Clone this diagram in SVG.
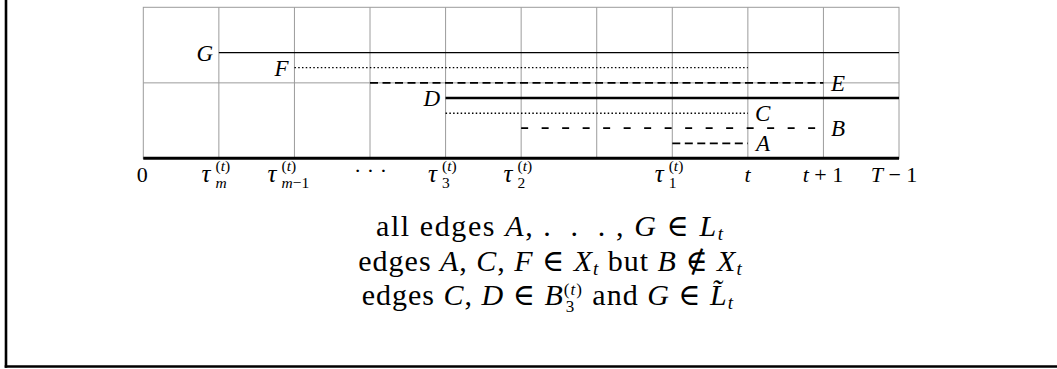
<svg xmlns="http://www.w3.org/2000/svg" width="1057" height="369" viewBox="0 0 1057 369">
<style>
text{font-family:"Liberation Serif","DejaVu Serif",serif;fill:#000}
.lb{font-size:23px;font-style:italic}
.ax{font-size:22px}
.tau{font-size:25px;font-style:italic}
.sm{font-size:15.5px}
.it{font-style:italic}
.cap{font-size:30px}
.s2{font-size:19px}
.s3{font-size:17px}
.grid line,.grid rect{stroke:#9c9c9c;stroke-width:1;fill:none}
.e{fill:none;stroke:#000}
.solid{stroke-width:1.3}
.thick{stroke-width:2.7}
.dot{stroke-width:1.4;stroke-dasharray:1.5 2.27}
.dash{stroke-width:1.8;stroke-dasharray:8 4.5}
.ldash{stroke-width:1.8;stroke-dasharray:7 13.5}
</style>
<rect width="1057" height="369" fill="#fff"/>
<g id="frame" stroke="#000" stroke-width="2.6" fill="none">
<line x1="6" y1="0" x2="6" y2="367.8"/>
<line x1="4.7" y1="366.5" x2="1057" y2="366.5"/>
</g>
<g id="grid" class="grid">
<rect x="143.3" y="7.3" width="755.7" height="151.14"/>
<line x1="143.3" y1="82.87" x2="899" y2="82.87"/>
<line x1="218.87" y1="7.3" x2="218.87" y2="158.44"/>
<line x1="294.44" y1="7.3" x2="294.44" y2="158.44"/>
<line x1="370.01" y1="7.3" x2="370.01" y2="158.44"/>
<line x1="445.58" y1="7.3" x2="445.58" y2="158.44"/>
<line x1="521.15" y1="7.3" x2="521.15" y2="158.44"/>
<line x1="596.72" y1="7.3" x2="596.72" y2="158.44"/>
<line x1="672.29" y1="7.3" x2="672.29" y2="158.44"/>
<line x1="747.86" y1="7.3" x2="747.86" y2="158.44"/>
<line x1="823.43" y1="7.3" x2="823.43" y2="158.44"/>
</g>
<g id="axis">
<line x1="143.3" y1="158.2" x2="899" y2="158.2" stroke="#000" stroke-width="3"/>
<text class="ax" x="142.3" y="182" text-anchor="middle">0</text>
<text class="tau" x="201.5" y="182">τ</text><text class="sm" x="215.5" y="171">(<tspan class="it">t</tspan>)</text><text class="sm it" x="215.5" y="188">m</text>
<text class="tau" x="267.5" y="182">τ</text><text class="sm" x="281.5" y="171">(<tspan class="it">t</tspan>)</text><text class="sm" x="281.5" y="188"><tspan class="it">m</tspan>−1</text>
<text class="ax" x="370.5" y="178" text-anchor="middle">· · ·</text>
<text class="tau" x="428" y="182">τ</text><text class="sm" x="442" y="171">(<tspan class="it">t</tspan>)</text><text class="sm" x="442" y="188">3</text>
<text class="tau" x="503.6" y="182">τ</text><text class="sm" x="517.6" y="171">(<tspan class="it">t</tspan>)</text><text class="sm" x="517.6" y="188">2</text>
<text class="tau" x="654.7" y="182">τ</text><text class="sm" x="668.7" y="171">(<tspan class="it">t</tspan>)</text><text class="sm" x="668.7" y="188">1</text>
<text class="ax it" x="747.6" y="182" text-anchor="middle">t</text>
<text class="ax" x="823" y="182" text-anchor="middle"><tspan class="it">t</tspan> + 1</text>
<text class="ax" x="894" y="182" text-anchor="middle"><tspan class="it">T</tspan> − 1</text>
</g>
<g id="connectors">
<line id="edge-G" class="e solid" x1="218.87" y1="52.64" x2="899" y2="52.64"/>
<line id="edge-F" class="e dot" x1="294.44" y1="67.6" x2="747.86" y2="67.6"/>
<line id="edge-E" class="e dash" x1="370.01" y1="82.87" x2="823.43" y2="82.87"/>
<line id="edge-D" class="e thick" x1="445.58" y1="97.98" x2="899" y2="97.98"/>
<line id="edge-C" class="e dot" x1="445.58" y1="113.2" x2="747.86" y2="113.2"/>
<line id="edge-B" class="e ldash" x1="521.15" y1="128.21" x2="823.43" y2="128.21"/>
<line id="edge-A" class="e dash" x1="672.29" y1="143.33" x2="747.86" y2="143.33"/>
</g>
<g id="node-G"><text class="lb" x="213" y="60.5" text-anchor="end">G</text></g>
<g id="node-F"><text class="lb" x="288.5" y="75.5" text-anchor="end">F</text></g>
<g id="node-D"><text class="lb" x="440" y="105.5" text-anchor="end">D</text></g>
<g id="node-E"><text class="lb" x="831" y="90.5">E</text></g>
<g id="node-C"><text class="lb" x="755" y="120.5">C</text></g>
<g id="node-B"><text class="lb" x="831" y="136">B</text></g>
<g id="node-A"><text class="lb" x="756" y="151">A</text></g>
<g id="caption">
<text class="cap" x="376" y="236" textLength="347" lengthAdjust="spacing">all edges <tspan class="it">A</tspan>, . &#160;. &#160;. , <tspan class="it">G</tspan> ∈ <tspan class="it">L</tspan><tspan class="s2 it" dy="4">t</tspan></text>
<text class="cap" x="358.3" y="271" textLength="383.4" lengthAdjust="spacing">edges <tspan class="it">A</tspan>, <tspan class="it">C</tspan>, <tspan class="it">F</tspan> ∈ <tspan class="it">X</tspan><tspan class="s2 it" dy="4">t</tspan><tspan dy="-4"> but </tspan><tspan class="it">B</tspan> ∉ <tspan class="it">X</tspan><tspan class="s2 it" dy="4">t</tspan></text>
<text class="cap" x="361.7" y="305" textLength="371.3" lengthAdjust="spacing">edges <tspan class="it">C</tspan>, <tspan class="it">D</tspan> ∈ <tspan class="it">B</tspan><tspan class="s3" dy="-10.5">(</tspan><tspan class="s3 it">t</tspan><tspan class="s3">)</tspan><tspan class="s3" dx="-17" dy="17.5">3</tspan><tspan dx="8.5" dy="-7"> and </tspan><tspan class="it">G</tspan> ∈ <tspan class="it">L̃</tspan><tspan class="s2 it" dy="4">t</tspan></text>
</g>
</svg>
